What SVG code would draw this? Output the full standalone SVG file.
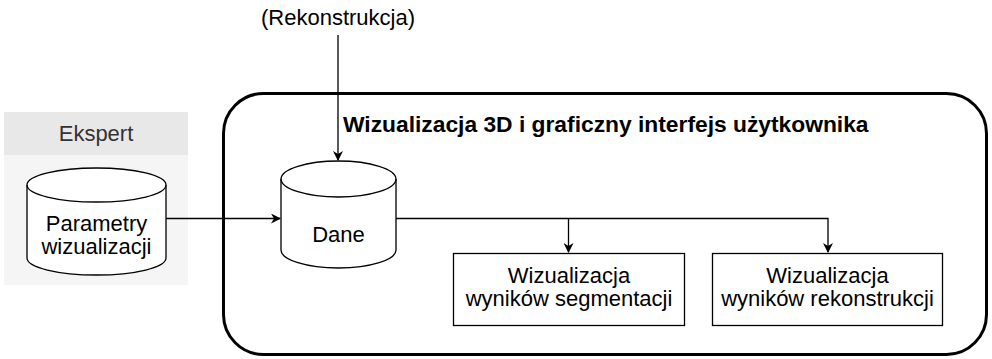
<svg xmlns="http://www.w3.org/2000/svg" width="992" height="359" viewBox="0 0 992 359">
  <style>
    .t { font-family: "Liberation Sans", Arial, sans-serif; font-size: 22px; fill: #000; text-anchor: middle; }
    .title { font-family: "Liberation Sans", Arial, sans-serif; font-size: 22.8px; font-weight: bold; fill: #000; }
    .shape { fill: #fff; stroke: #000; stroke-width: 1.3; }
    .edge { fill: none; stroke: #000; stroke-width: 1.3; }
  </style>
  <defs>
    <marker id="arrow" viewBox="0 0 10 10" refX="9" refY="5" markerWidth="10" markerHeight="10" markerUnits="userSpaceOnUse" orient="auto">
      <path d="M0,0 L10,5 L0,10 L3,5 Z" fill="#000"/>
    </marker>
  </defs>
  <rect width="992" height="359" fill="#fff"/>

  <!-- Expert swimlane -->
  <g id="ekspert">
    <rect x="4" y="112" width="184" height="173" fill="#f5f5f5"/>
    <rect x="4" y="112" width="184" height="43" fill="#e8e8e8"/>
    <text class="t" x="96" y="141" style="fill:#333">Ekspert</text>
  </g>

  <!-- Main container -->
  <g id="gui">
    <rect x="223.5" y="93.5" width="763" height="261" rx="40" ry="40" fill="none" stroke="#000" stroke-width="3"/>
    <text class="title" x="343" y="132">Wizualizacja 3D i graficzny interfejs użytkownika</text>
  </g>

  <g id="parametry">
    <path class="shape" d="M27,185 A69.5,17 0 0 1 166,185 L166,258 A69.5,17 0 0 1 27,258 Z"/>
    <path class="edge" d="M27,185 A69.5,17 0 0 0 166,185"/>
    <text class="t" x="96.5" y="231">Parametry</text>
    <text class="t" x="96.5" y="254">wizualizacji</text>
  </g>

  <g id="dane">
    <path class="shape" d="M281,179 A57.5,18 0 0 1 396,179 L396,250 A57.5,18 0 0 1 281,250 Z"/>
    <path class="edge" d="M281,179 A57.5,18 0 0 0 396,179"/>
    <text class="t" x="338.5" y="242">Dane</text>
  </g>

  <g id="segmentacja">
    <rect class="shape" x="453.5" y="253.5" width="231" height="72"/>
    <text class="t" x="569" y="282.5">Wizualizacja</text>
    <text class="t" x="569" y="306">wyników segmentacji</text>
  </g>

  <g id="rekonstrukcja">
    <rect class="shape" x="712.5" y="253.5" width="230" height="72"/>
    <text class="t" x="827.5" y="282.5">Wizualizacja</text>
    <text class="t" x="827.5" y="306">wyników rekonstrukcji</text>
  </g>

  <text class="t" x="338" y="25">(Rekonstrukcja)</text>

  <g id="connectors">
    <path class="edge" d="M338,35 L338,160" marker-end="url(#arrow)"/>
    <path class="edge" d="M166,218.5 L280,218.5" marker-end="url(#arrow)"/>
    <path class="edge" d="M396,218.5 L828,218.5 L828,252" marker-end="url(#arrow)"/>
    <path class="edge" d="M568.5,218.5 L568.5,252" marker-end="url(#arrow)"/>
  </g>
</svg>
